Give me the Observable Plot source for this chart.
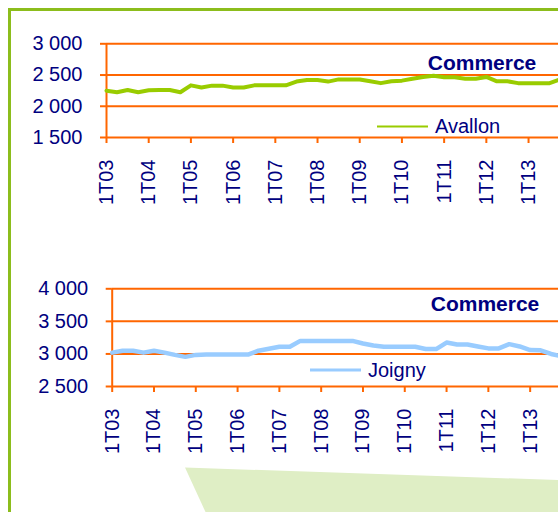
<!DOCTYPE html>
<html>
<head>
<meta charset="utf-8">
<script src="https://cdn.jsdelivr.net/npm/d3@7"></script>
<script src="https://cdn.jsdelivr.net/npm/@observablehq/plot@0.6"></script>
<style>
  html, body { margin: 0; padding: 0; background: #fff; overflow: hidden; }
  #wrap { position: relative; width: 558px; height: 512px; overflow: hidden; background: #fff;
          font-family: "Liberation Sans", Arial, sans-serif; color: #000080; }
  #frame { position: absolute; left: 8px; top: 8px; width: 700px; height: 700px;
           border-left: 3px solid #8cbd1c; border-top: 3px solid #8cbd1c; }
  #wedge { position: absolute; left: 0; top: 0; width: 558px; height: 512px; background: #dfeec5;
           clip-path: polygon(185px 467.5px, 558px 480px, 558px 512px, 205.5px 512px); }
  .chart { position: absolute; left: 0; width: 620px; }
  .chart svg { max-width: none !important; width: 620px; }
  .title { position: absolute; font-weight: bold; font-size: 21px; transform: translate(-50%, -50%); white-space: nowrap; }
  .legend { position: absolute; display: flex; align-items: center; font-size: 20px; white-space: nowrap; transform: translateY(-50%); }
  .legend .sw { display: inline-block; width: 51px; margin-right: 7px; }
</style>
</head>
<body>
<div id="wrap">
  <div id="frame"></div>
  <div id="wedge"></div>
  <div id="c1" class="chart" style="top:0px"></div>
  <div id="c2" class="chart" style="top:240px"></div>
  <div class="title" style="left:482px;top:63px">Commerce</div>
  <div class="title" style="left:485px;top:304px">Commerce</div>
  <div class="legend" style="left:377px;top:126px"><span class="sw" style="border-top:2.5px solid #99cc00"></span>Avallon</div>
  <div class="legend" style="left:310px;top:370px"><span class="sw" style="border-top:3px solid #99ccff"></span>Joigny</div>
</div>
<script>
// ---- data ----
const years = ["03","04","05","06","07","08","09","10","11","12","13"];
const quarterPrefixes = ["1T","2T","3T","4T"];
const avallon = [2250, 2225, 2260, 2225, 2255, 2260, 2260, 2225, 2335, 2300, 2330,
                 2330, 2300, 2300, 2335, 2335, 2335, 2335, 2395, 2420, 2420, 2395,
                 2430, 2430, 2430, 2400, 2370, 2400, 2410, 2440, 2470, 2490, 2465,
                 2465, 2440, 2440, 2470, 2400, 2400, 2370, 2370, 2370, 2370, 2430];
const joigny = [3020, 3050, 3050, 3020, 3050, 3020, 2985, 2955, 2985, 2990, 2990,
                2990, 2990, 2990, 3050, 3080, 3110, 3110, 3200, 3200, 3200, 3200,
                3200, 3200, 3160, 3130, 3110, 3110, 3110, 3110, 3075, 3075, 3175,
                3145, 3145, 3115, 3085, 3085, 3150, 3115, 3060, 3055, 3000, 2965];
const avallonTicks = [1500, 2000, 2500, 3000];
const joignyTicks = [2500, 3000, 3500, 4000];

const quarters = years.flatMap(y => quarterPrefixes.map(q => q + y));
const yearTicks = years.map(y => "1T" + y);
const fmt = n => String(n).replace(/\B(?=(\d{3})+(?!\d))/g, " ");

const ORANGE = "#ff6600";
const NAVY = "#000080";

function chart({values, ticks, color, width, height, marginLeft, marginRight, marginTop, marginBottom, lineWidth}) {
  const data = quarters.map((q, i) => ({q, v: values[i]}));
  return Plot.plot({
    width, height, marginLeft, marginRight, marginTop, marginBottom,
    style: {fontFamily: '"Liberation Sans", Arial, sans-serif', fontSize: "20px", color: NAVY, background: "transparent", overflow: "visible", maxWidth: "none"},
    x: {type: "point", domain: quarters, padding: 0, round: false, axis: null},
    y: {domain: [ticks[0], ticks[ticks.length - 1]], axis: null},
    marks: [
      Plot.ruleY(ticks, {stroke: ORANGE, strokeWidth: 2}),
      Plot.ruleX([quarters[0]], {y1: ticks[0], y2: ticks[ticks.length - 1], stroke: ORANGE, strokeWidth: 2}),
      Plot.axisY(ticks, {anchor: "left", label: null, tickSize: 6, tickPadding: 18, stroke: ORANGE, strokeWidth: 2, fill: NAVY, tickFormat: fmt, fontSize: 20}),
      Plot.axisX(yearTicks, {anchor: "bottom", label: null, tickSize: 6, tickPadding: 16, tickRotate: -90, stroke: ORANGE, strokeWidth: 2, fill: NAVY, fontSize: 20}),
      Plot.line(data, {x: "q", y: "v", stroke: color, strokeWidth: lineWidth, curve: "linear"})
    ]
  });
}

document.getElementById("c1").append(chart({
  values: avallon, ticks: avallonTicks, color: "#99cc00",
  width: 620, height: 217, marginLeft: 106, marginRight: 60.3, marginTop: 43.3, marginBottom: 80, lineWidth: 4
}));
document.getElementById("c2").append(chart({
  values: joigny, ticks: joignyTicks, color: "#99ccff",
  width: 620, height: 226, marginLeft: 111.7, marginRight: 59, marginTop: 48.3, marginBottom: 80, lineWidth: 4.5
}));
</script>
</body>
</html>
